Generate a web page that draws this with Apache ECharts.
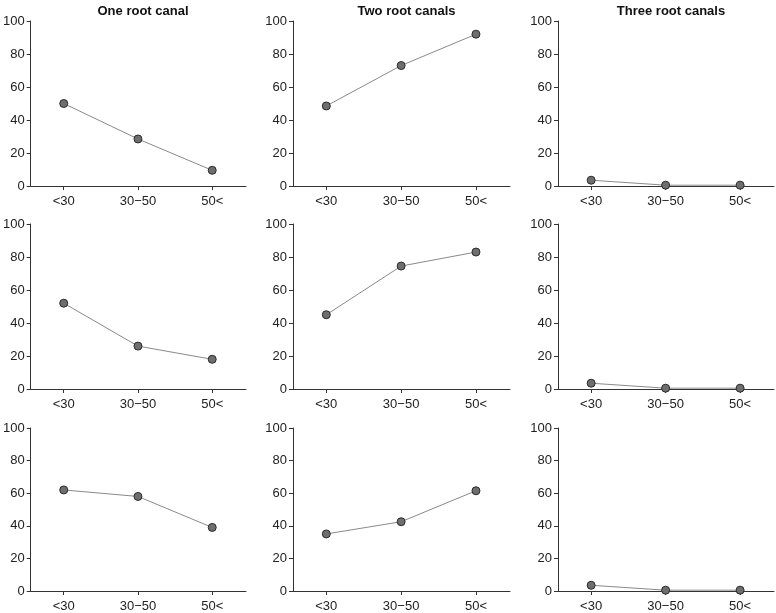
<!DOCTYPE html>
<html><head><meta charset="utf-8">
<script src="https://cdn.jsdelivr.net/npm/echarts@6/dist/echarts.min.js"></script>
<style>html,body{margin:0;padding:0;background:#fff}#c{width:776px;height:613px}</style>
</head><body><div id="c"></div>
<script>
const categories = ['<30', '30\u221250', '50<'];
const columnTitles = ['One root canal', 'Two root canals', 'Three root canals'];
const yTickMin = 0;
const yTickMax = 100;
const yTickStep = 20;

// row 1
const r1One = [50, 28.5, 9.5];
const r1Two = [48.5, 73, 92];
const r1Three = [3.5, 0.5, 0.5];
// row 2
const r2One = [52, 26, 18];
const r2Two = [45, 74.5, 83];
const r2Three = [3.5, 0.5, 0.5];
// row 3
const r3One = [62, 58, 39];
const r3Two = [35, 42.5, 61.5];
const r3Three = [3.5, 0.5, 0.5];

const panels = [r1One, r1Two, r1Three, r2One, r2Two, r2Three, r3One, r3Two, r3Three];

const colLeft = [30, 293, 558];
const colWidth = [216, 217, 216];
const rowTop = [21, 224, 428];
const rowHeight = [165, 165, 166];

const font = 'Liberation Sans, Arial, Helvetica, sans-serif';
const txt = '#222';

const grids = [], xAxes = [], yAxes = [], series = [], titles = [];
panels.forEach((vals, i) => {
  const r = Math.floor(i / 3), c = i % 3;
  grids.push({left: colLeft[c], top: rowTop[r], width: colWidth[c], height: rowHeight[r], containLabel: false});
  xAxes.push({
    type: 'value', gridIndex: i, min: 0.555, max: 3.455, splitNumber: 3,
    axisLine: {show: true, onZero: false, lineStyle: {color: '#333', width: 1}},
    axisTick: {show: true, length: 4, lineStyle: {color: '#333'}},
    splitLine: {show: false},
    axisLabel: {
      margin: 9, color: txt, fontSize: 13, fontFamily: font,
      showMinLabel: false, showMaxLabel: false,
      formatter: v => (Math.abs(v - Math.round(v)) < 1e-6 && categories[Math.round(v) - 1]) || ''
    }
  });
  yAxes.push({
    type: 'value', gridIndex: i, min: yTickMin, max: yTickMax, interval: yTickStep,
    axisLine: {show: true, lineStyle: {color: '#333', width: 1}},
    axisTick: {show: true, length: 4, lineStyle: {color: '#333'}},
    splitLine: {show: false},
    axisLabel: {margin: 6, color: txt, fontSize: 13, fontFamily: font}
  });
  series.push({
    type: 'line', xAxisIndex: i, yAxisIndex: i,
    data: vals.map((v, k) => [k + 1, v]),
    symbol: 'circle', symbolSize: 8,
    lineStyle: {color: '#8a8a8a', width: 1},
    itemStyle: {color: '#6e6e6e', borderColor: '#2b2b2b', borderWidth: 1},
    animation: false, silent: true
  });
});
columnTitles.forEach((t, c) => {
  titles.push({
    text: t, left: colLeft[c] + colWidth[c] / 2, top: 0, textAlign: 'center',
    textStyle: {fontSize: 13, fontWeight: 'bold', color: '#111', fontFamily: font}
  });
});

const chart = echarts.init(document.getElementById('c'), null, {renderer: 'canvas'});
chart.setOption({
  animation: false,
  backgroundColor: '#fff',
  title: titles,
  grid: grids, xAxis: xAxes, yAxis: yAxes, series: series
});
</script>
</body></html>
